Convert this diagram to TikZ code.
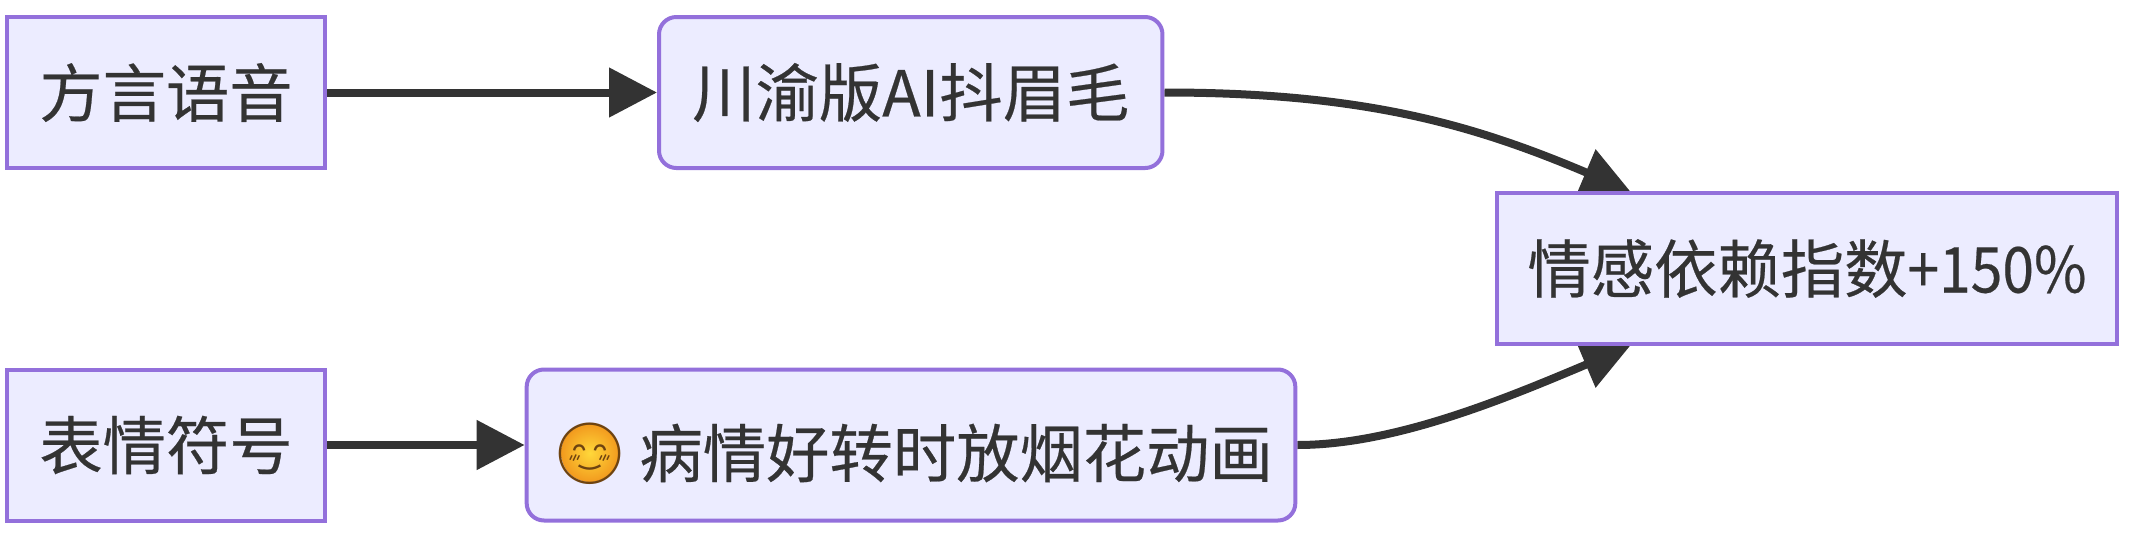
\documentclass[tikz,border=0pt]{standalone}
\usepackage{fontspec}
\usepackage{graphicx}
\setmainfont{Noto Sans CJK SC}[RawFeature={embolden=0.35}]
\newfontfamily\smilefont{Noto Emoji}
\usepackage{xcolor}
\usetikzlibrary{arrows.meta}
\usetikzlibrary{backgrounds}
\definecolor{boxfill}{HTML}{ECECFF}
\definecolor{boxline}{HTML}{9370DB}
\definecolor{inkdark}{HTML}{333333}
\definecolor{smilein}{HTML}{FFD83A}
\definecolor{smileout}{HTML}{F29A1E}
\definecolor{smileink}{HTML}{6E4310}

\tikzset{
  plainbox/.style={draw=boxline, fill=boxfill, line width=3pt, text=inkdark, inner sep=0pt,
    font=\fontsize{47.5}{50}\selectfont, minimum height=113.25pt},
  softbox/.style={plainbox, rounded corners=13pt},
  flowline/.style={draw=inkdark, line width=6pt, -{Triangle[length=36pt,width=36pt]}},
  smileface/.style={circle, inner sep=0pt, minimum size=43.5pt, text=smileink,
    inner color=smilein, outer color=smileout, font=\smilefont\fontsize{45.5}{46}\selectfont}
}

\begin{document}
\begin{tikzpicture}[x=0.75pt, y=-0.75pt]

\useasboundingbox (0,0) rectangle (2135,543);

\node [plainbox, minimum width=238.5pt] (dialect) at (166,92.5) {方言语音};
\node [plainbox, minimum width=238.5pt] (symbols) at (166,445) {表情符号};
\node [softbox, minimum width=377.6pt] (brows) at (910.75,92.5) {川渝版AI抖眉毛};
\node [softbox, minimum width=576.5pt] (fireworks) at (911,445)
  {\hspace*{67.75pt}\raisebox{-6pt}[\height][\depth]{病情好转时放烟花动画}};
\node [plainbox, minimum width=465pt] (index) at (1807,268.5) {情感依赖指数\scalebox{0.9}[1]{+150\%}};
\node [smileface] (smile) at (590,453) {\makebox[0pt]{\raisebox{-0.36em}[0pt][0pt]{😊}}};

\coordinate (indextop) at (1630,191);
\coordinate (indexlow) at (1630,346);

\begin{pgfonlayer}{background}
\draw [flowline] (dialect.east) -- (brows.west);
\draw [flowline] (symbols.east) -- (fireworks.west);
\draw [flowline] (brows.east) .. controls +(200,0) and +(-156,-66) .. (indextop);
\draw [flowline] (fireworks.east) .. controls +(95,0) and +(-130,55) .. (indexlow);
\end{pgfonlayer}

\end{tikzpicture}
\end{document}
